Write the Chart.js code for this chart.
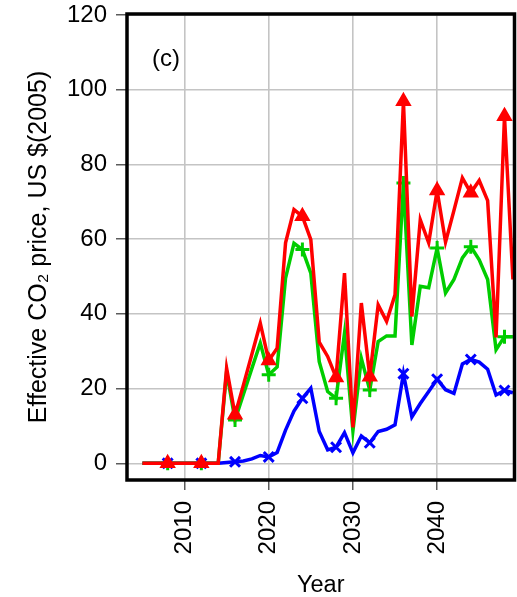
<!DOCTYPE html>
<html>
<head>
<meta charset="utf-8">
<script src="https://cdn.jsdelivr.net/npm/chart.js@4.4.1/dist/chart.umd.min.js"></script>
<style>
  html, body { margin: 0; padding: 0; background: #ffffff; }
  #wrap { width: 517px; height: 597px; }
</style>
</head>
<body>
<div id="wrap"><canvas id="c" width="517" height="597"></canvas></div>
<script>
// ---- data ----
const years = [2005, 2006, 2007, 2008, 2009, 2010, 2011, 2012, 2013, 2014,
               2015, 2016, 2017, 2018, 2019, 2020, 2021, 2022, 2023, 2024,
               2025, 2026, 2027, 2028, 2029, 2030, 2031, 2032, 2033, 2034,
               2035, 2036, 2037, 2038, 2039, 2040, 2041, 2042, 2043, 2044,
               2045, 2046, 2047, 2048, 2049];

const redSeries = [0, 0, 0, 0, 0, 0, 0, 0, 0, 0,
                   25.5, 13.0, 21.0, 29.2, 37.5, 27.5, 30.8, 59.0, 67.9, 66.1,
                   59.9, 32.4, 28.6, 23.0, 50.9, 9.6, 42.9, 23.2, 42.4, 38.0,
                   45.1, 96.9, 39.3, 65.2, 59.0, 73.0, 59.2, 67.7, 76.4, 72.4,
                   75.7, 70.3, 33.7, 92.9, 49.2];

const greenSeries = [0, 0, 0, 0, 0, 0, 0, 0, 0, 0,
                     24.5, 11.6, 18.5, 25.4, 32.2, 23.7, 25.8, 49.6, 58.9, 57.2,
                     50.9, 27.2, 19.2, 17.4, 34.8, 8.7, 28.1, 19.6, 32.6, 34.1,
                     34.1, 75.0, 31.7, 47.4, 47.0, 57.6, 45.6, 49.2, 55.0, 58.0,
                     54.5, 49.2, 30.4, 33.9, 33.9];

const blueSeries = [0, 0, 0, 0, 0, 0, 0, 0, 0, 0,
                    0.2, 0.4, 0.6, 1.2, 2.1, 1.7, 2.9, 8.9, 14.0, 17.4,
                    20.1, 8.5, 3.6, 4.3, 8.2, 2.8, 7.3, 5.5, 8.5, 9.1,
                    10.3, 24.0, 12.4, 16.0, 19.2, 22.5, 19.7, 18.7, 26.6, 27.8,
                    27.1, 25.2, 18.3, 19.5, 18.9];

const markerYears = [2008, 2012, 2016, 2020, 2024, 2028, 2032, 2036, 2040, 2044, 2048];

const xTickValues = [2010, 2020, 2030, 2040];
const yTickValues = [0, 20, 40, 60, 80, 100, 120];

const panelLabel = '(c)';
const xTitle = 'Year';
const yTitle = 'Effective CO\u2082 price, US $(2005)';

// ---- chart ----
const FONT = '"Liberation Sans", Arial, Helvetica, sans-serif';

function toPoints(arr) {
  return years.map((yr, i) => ({ x: yr, y: arr[i] }));
}
function markerRadius(r) {
  return ctx => (markerYears.includes(years[ctx.dataIndex]) ? r : 0);
}

const framePlugin = {
  id: 'frame',
  afterDraw(chart) {
    const { ctx, chartArea } = chart;
    ctx.save();
    ctx.strokeStyle = '#000000';
    ctx.lineWidth = 3.5;
    ctx.strokeRect(chartArea.left, chartArea.top,
                   chartArea.right - chartArea.left, chartArea.bottom - chartArea.top);
    ctx.fillStyle = '#000000';
    ctx.font = '24px ' + FONT;
    ctx.textAlign = 'left';
    ctx.textBaseline = 'middle';
    ctx.fillText(panelLabel, chartArea.left + 25, chartArea.top + 45);
    ctx.restore();
  }
};

new Chart(document.getElementById('c'), {
  type: 'line',
  data: {
    datasets: [
      {
        data: toPoints(redSeries),
        borderColor: '#ff0000',
        backgroundColor: '#ff0000',
        borderWidth: 3.5,
        pointStyle: 'triangle',
        pointRadius: markerRadius(7),
        pointBorderWidth: 2.5,
        pointBorderColor: '#ff0000',
        pointBackgroundColor: '#ff0000',
        tension: 0,
        fill: false
      },
      {
        data: toPoints(greenSeries),
        borderColor: '#00cd00',
        backgroundColor: '#00cd00',
        borderWidth: 3.5,
        pointStyle: 'cross',
        pointRadius: markerRadius(7),
        pointBorderWidth: 3,
        pointBorderColor: '#00cd00',
        tension: 0,
        fill: false
      },
      {
        data: toPoints(blueSeries),
        borderColor: '#0000ff',
        backgroundColor: '#0000ff',
        borderWidth: 3.5,
        pointStyle: 'crossRot',
        pointRadius: markerRadius(7),
        pointBorderWidth: 3,
        pointBorderColor: '#0000ff',
        tension: 0,
        fill: false
      }
    ]
  },
  options: {
    responsive: false,
    animation: false,
    devicePixelRatio: 1,
    events: [],
    layout: { padding: { left: 0, right: 2.5, top: 14, bottom: 0 }, autoPadding: false },
    plugins: { legend: { display: false }, tooltip: { enabled: false } },
    scales: {
      x: {
        type: 'linear',
        min: 2003.17,
        max: 2049.19,
        afterBuildTicks: s => { s.ticks = xTickValues.map(v => ({ value: v })); },
        afterFit: s => { s.height = 117; s.paddingLeft = 0; s.paddingRight = 0; },
        border: { display: false },
        grid: { color: '#c4c4c4', lineWidth: 1.6, tickColor: '#333333', tickLength: 10, tickWidth: 1.2 },
        ticks: {
          color: '#000000',
          font: { family: FONT, size: 24 },
          minRotation: 90, maxRotation: 90,
          padding: 11,
          autoSkip: false,
          callback: v => String(v)
        },
        title: {
          display: true, text: xTitle, color: '#000000',
          font: { family: FONT, size: 23.5, lineHeight: 1 },
          padding: { top: 0, bottom: 0 }
        }
      },
      y: {
        type: 'linear',
        min: -4.47,
        max: 120.27,
        afterBuildTicks: s => { s.ticks = yTickValues.map(v => ({ value: v })); },
        afterFit: s => { s.width = 127; s.paddingTop = 0; s.paddingBottom = 0; },
        border: { display: false },
        grid: { color: '#c4c4c4', lineWidth: 1.6, tickColor: '#333333', tickLength: 11, tickWidth: 1.2 },
        ticks: {
          color: '#000000',
          font: { family: FONT, size: 24 },
          padding: 9,
          autoSkip: false,
          callback: v => String(v)
        },
        title: {
          display: true, text: yTitle, color: '#000000',
          font: { family: FONT, size: 25, lineHeight: 1 },
          padding: { top: 26.5, bottom: 0 }
        }
      }
    }
  },
  plugins: [framePlugin]
});
</script>
</body>
</html>
